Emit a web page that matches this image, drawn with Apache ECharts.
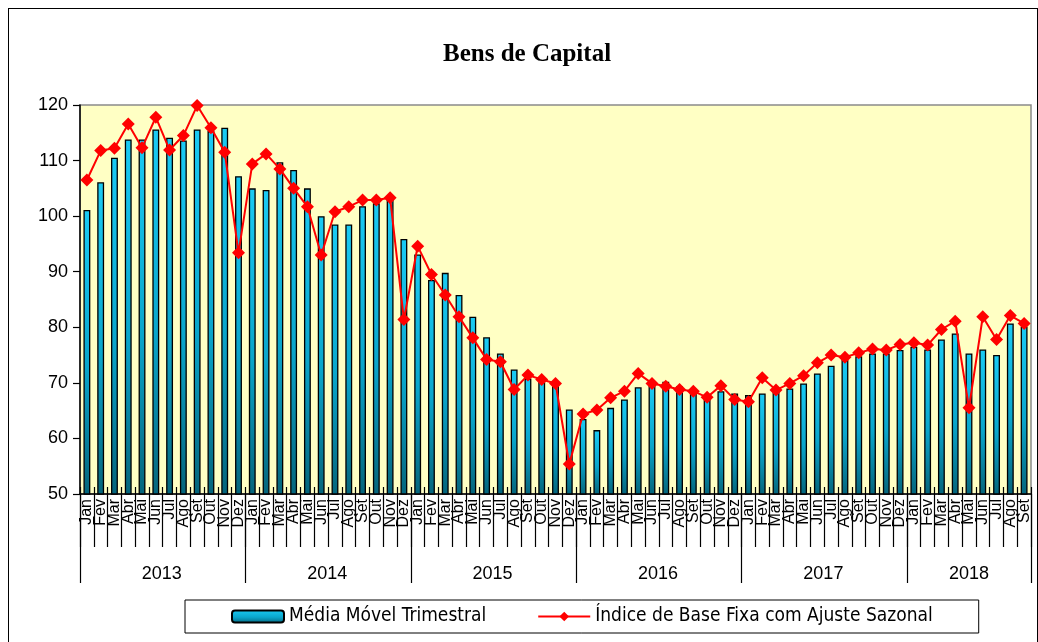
<!DOCTYPE html>
<html>
<head>
<meta charset="utf-8">
<script src="https://cdn.jsdelivr.net/npm/echarts@6/dist/echarts.min.js"></script>
<style>
  body { margin: 0; background: #fff; }
  #main { position: absolute; left: 0; top: 0; width: 1038px; height: 642px; }
  #frame { position: absolute; left: 8px; top: 8px; width: 1028px; height: 633px; border: 1px solid #000; pointer-events: none; }
</style>
</head>
<body>
<div id="main"></div>
<div id="frame"></div>
<script>
// data
var years = ['2013', '2014', '2015', '2016', '2017', '2018'];
var monthsInYear = [12, 12, 12, 12, 12, 9];
var months = ['Jan', 'Fev', 'Mar', 'Abr', 'Mai', 'Jun', 'Jul', 'Ago', 'Set', 'Out', 'Nov', 'Dez'];

// Média Móvel Trimestral (bars)
var mediaMovel = [
  101.1, 106.1, 110.5, 113.8, 113.8, 115.6, 114.1, 113.6, 115.6, 115.3, 115.9, 107.2,
  105.0, 104.7, 109.7, 108.3, 105.0, 100.0, 98.5, 98.5, 101.8, 102.3, 103.2, 95.9,
  93.1, 88.5, 89.8, 85.8, 81.9, 78.2, 75.3, 72.4, 70.8, 70.5, 69.6, 65.2,
  63.5, 61.5, 65.5, 67.0, 69.2, 69.6, 70.2, 69.4, 68.1, 67.2, 68.5, 68.1,
  67.8, 68.1, 68.5, 69.0, 69.9, 71.7, 73.1, 74.1, 74.8, 75.3, 75.3, 75.9,
  76.5, 76.0, 77.8, 78.9, 75.3, 76.0, 75.0, 80.7, 80.1
];

// Índice de Base Fixa com Ajuste Sazonal (line)
var indiceSazonal = [
  106.5, 111.8, 112.2, 116.6, 112.3, 117.8, 111.9, 114.5, 119.9, 115.9, 111.5, 93.4,
  109.4, 111.2, 108.5, 105.0, 101.7, 93.0, 100.8, 101.7, 102.9, 102.9, 103.3, 81.4,
  94.6, 89.5, 85.8, 81.9, 78.1, 74.2, 73.8, 68.8, 71.4, 70.6, 69.9, 55.4,
  64.4, 65.1, 67.3, 68.5, 71.7, 69.9, 69.4, 68.8, 68.5, 67.4, 69.5, 67.0,
  66.6, 70.9, 68.7, 69.9, 71.3, 73.6, 75.0, 74.6, 75.4, 76.1, 75.9, 76.9,
  77.2, 76.8, 79.6, 81.1, 65.5, 81.9, 77.8, 82.1, 80.7
];

var yTicks = { min: 50, max: 120, interval: 10 };

// categories 'YYYY-Mmm', plus the index where each year label goes
var categories = [];
var yearStart = [];
var yearLabelIdx = {};
years.forEach(function (y, k) {
  yearStart.push(categories.length);
  var n = monthsInYear[k];
  yearLabelIdx[categories.length + Math.floor((n - 1) / 2)] = n % 2 === 0 ? 'e' : 'o';
  for (var m = 0; m < n; m++) categories.push(y + '-' + months[m]);
});

var axisFont = 'Liberation Sans, Arial, sans-serif';

var chart = echarts.init(document.getElementById('main'));
var option = {
  animation: false,
  title: {
    text: 'Bens de Capital',
    left: 438,
    top: 37,
    textStyle: {
      fontFamily: 'Liberation Serif, DejaVu Serif, serif',
      fontWeight: 'bold',
      fontSize: 25,
      color: '#000',
    },
  },
  legend: {
    left: 185,
    bottom: 9,
    padding: [7, 46],
    itemGap: 51,
    itemWidth: 52,
    itemHeight: 12,
    borderColor: '#000',
    borderWidth: 1,
    textStyle: {
      fontFamily: 'Liberation Sans Narrow, DejaVu Sans Condensed, sans-serif',
      fontSize: 19,
      color: '#000',
    },
    data: ['Média Móvel Trimestral', 'Índice de Base Fixa com Ajuste Sazonal'],
  },
  grid: {
    left: 80,
    right: 7,
    top: 105,
    bottom: 148,
    show: true,
    backgroundColor: '#FFFFC4',
    borderColor: '#8a8a8a',
    borderWidth: 1.5,
  },
  xAxis: [
    {
      // months
      type: 'category',
      data: categories,
      position: 'bottom',
      axisLine: { show: true, lineStyle: { color: '#000', width: 1.5 } },
      axisTick: { show: true, interval: 0, length: 53, lineStyle: { color: '#000', width: 1.2 } },
      axisLabel: {
        interval: 0,
        rotate: 90,
        margin: 5,
        fontSize: 16,
        fontFamily: axisFont,
        color: '#000',
        formatter: function (v) { return v.split('-')[1]; },
      },
    },
    {
      // small ticks crossing into the plot
      type: 'category',
      data: categories,
      position: 'bottom',
      axisLine: { show: false },
      axisTick: { show: true, inside: true, interval: 0, length: 7, lineStyle: { color: '#000', width: 1.2 } },
      axisLabel: { show: false },
    },
    {
      // years
      type: 'category',
      data: categories,
      position: 'bottom',
      axisLine: { show: false },
      axisTick: {
        show: true,
        length: 89,
        interval: function (i) { return yearStart.indexOf(i) >= 0; },
        lineStyle: { color: '#000', width: 1.2 },
      },
      axisLabel: {
        margin: 71,
        interval: function (i) { return yearLabelIdx[i] !== undefined; },
        formatter: function (v, i) {
          var y = v.split('-')[0];
          return yearLabelIdx[i] === 'e' ? '{e|' + y + '}' : '{o|' + y + '}';
        },
        rich: {
          e: { fontSize: 18, fontFamily: axisFont, color: '#000', padding: [0, 0, 0, 12] },
          o: { fontSize: 18, fontFamily: axisFont, color: '#000' },
        },
      },
    },
  ],
  yAxis: {
    type: 'value',
    min: yTicks.min,
    max: yTicks.max,
    interval: yTicks.interval,
    splitLine: { show: false },
    axisLine: { show: true, lineStyle: { color: '#000', width: 1.5 } },
    axisTick: { show: true, length: 7, lineStyle: { color: '#000', width: 1.2 } },
    axisLabel: { margin: 12, fontSize: 18, fontFamily: axisFont, color: '#000' },
  },
  series: [
    {
      name: 'Média Móvel Trimestral',
      type: 'bar',
      xAxisIndex: 0,
      barWidth: '50%',
      data: mediaMovel,
      itemStyle: {
        borderColor: '#000',
        borderWidth: 1.3,
        color: new echarts.graphic.LinearGradient(0, 0, 0, 1, [
          { offset: 0, color: '#1ACBF4' },
          { offset: 0.55, color: '#0AA6CC' },
          { offset: 1, color: '#05657C' },
        ]),
      },
    },
    {
      name: 'Índice de Base Fixa com Ajuste Sazonal',
      type: 'line',
      xAxisIndex: 0,
      data: indiceSazonal,
      symbol: 'diamond',
      symbolSize: 13,
      lineStyle: { color: '#FF0000', width: 2 },
      itemStyle: { color: '#FF0000' },
      z: 5,
    },
  ],
};
chart.setOption(option);
</script>
</body>
</html>
